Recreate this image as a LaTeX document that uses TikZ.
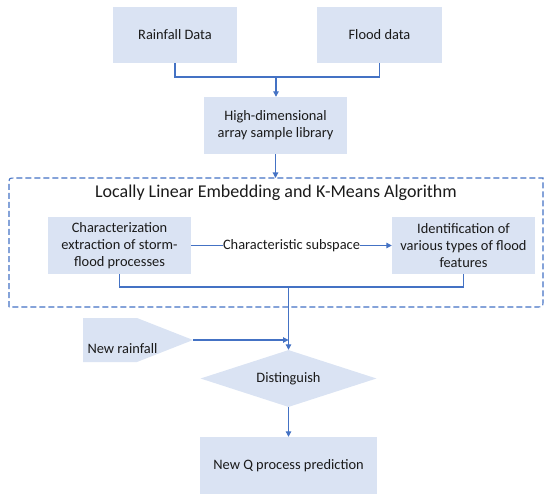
\documentclass[tikz,border=0pt]{standalone}
\usepackage{fontspec}
\setmainfont{Carlito}
\usetikzlibrary{arrows.meta,shapes.geometric}
\definecolor{boxfill}{HTML}{DAE3F3}
\definecolor{linec}{HTML}{4472C4}
\definecolor{txt}{HTML}{1A1A1A}
\tikzset{
  box/.style={rectangle, fill=boxfill, text=txt, align=center, inner sep=0pt,
    font=\fontsize{14.4bp}{17bp}\selectfont},
  conn/.style={draw=linec, line width=1.1bp},
  arr/.style={conn, -{Triangle[length=5.5bp,width=5.5bp]}},
}
\begin{document}
\begin{tikzpicture}[x=1bp,y=-1bp]
\useasboundingbox (0,0) rectangle (550,500);

% top boxes
\node[box, minimum width=124bp, minimum height=56bp] (rain) at (175,35) {Rainfall Data};
\node[box, minimum width=125bp, minimum height=56bp] (flood) at (379.5,35) {Flood data};
\node[box, minimum width=143bp, minimum height=57bp] (hd) at (275.5,125.5) {High-dimensional\\array sample library};

\coordinate (m1) at (276,77);
\draw[conn] (rain.south) |- (m1) -| (flood.south);
\draw[arr] (m1) -- (m1 |- hd.north);

% dashed group
\coordinate (dtl) at (9,178);
\coordinate (dbr) at (543,307);
\draw[draw=linec, line width=1.1bp, dash pattern=on 6bp off 3bp]
  (dtl |- dbr) -- ([yshift=-6bp]dtl) .. controls (dtl) .. ([xshift=6bp]dtl)
  -- (dbr |- dtl) -- ([yshift=6bp]dbr) .. controls (dbr) .. ([xshift=-6bp]dbr) -- cycle;
\draw[arr] (hd.south) -- (hd.south |- dtl);

\node[text=txt, font=\fontsize{18bp}{21bp}\selectfont] (title) at (276,193) {Locally Linear Embedding and K-Means Algorithm};

\node[box, minimum width=143bp, minimum height=57bp] (char) at (119.5,245.5) {Characterization\\extraction of storm-\\flood processes};
\node[box, minimum width=143bp, minimum height=57bp] (ident) at (463.5,245.5) {Identification of\\various types of flood\\features};

\draw[arr] (char.east) -- node[fill=white, text=txt, inner sep=0.5bp, font=\fontsize{14.4bp}{17bp}\selectfont] (sub) {Characteristic subspace} (ident.west);

\coordinate (m2) at (288.5,287);
\draw[conn] (char.south) |- (m2) -| (ident.south);

% new rainfall (pentagon arrow)
\coordinate (nrtip) at (193,340);
\fill[boxfill] (83,318) -- (137,318) -- (nrtip) -- (137,362) -- (83,362) -- cycle;
\node[text=txt, font=\fontsize{14.4bp}{17bp}\selectfont, inner sep=0pt] (nrt) at (122.5,349) {New rainfall};

% distinguish
\node[diamond, fill=boxfill, text=txt, inner sep=0pt, shape aspect=3.1, minimum width=176bp, minimum height=57bp, font=\fontsize{14.4bp}{17bp}\selectfont] (dia) at (288.5,378.5) {Distinguish};

\draw[arr] (m2) -- (dia.north);
\draw[arr] (nrtip) -- (nrtip -| dia.north);

\node[box, minimum width=177bp, minimum height=57bp] (q) at (288.5,465.5) {New Q process prediction};
\draw[arr] (dia.south) -- (q.north);
\end{tikzpicture}
\end{document}
